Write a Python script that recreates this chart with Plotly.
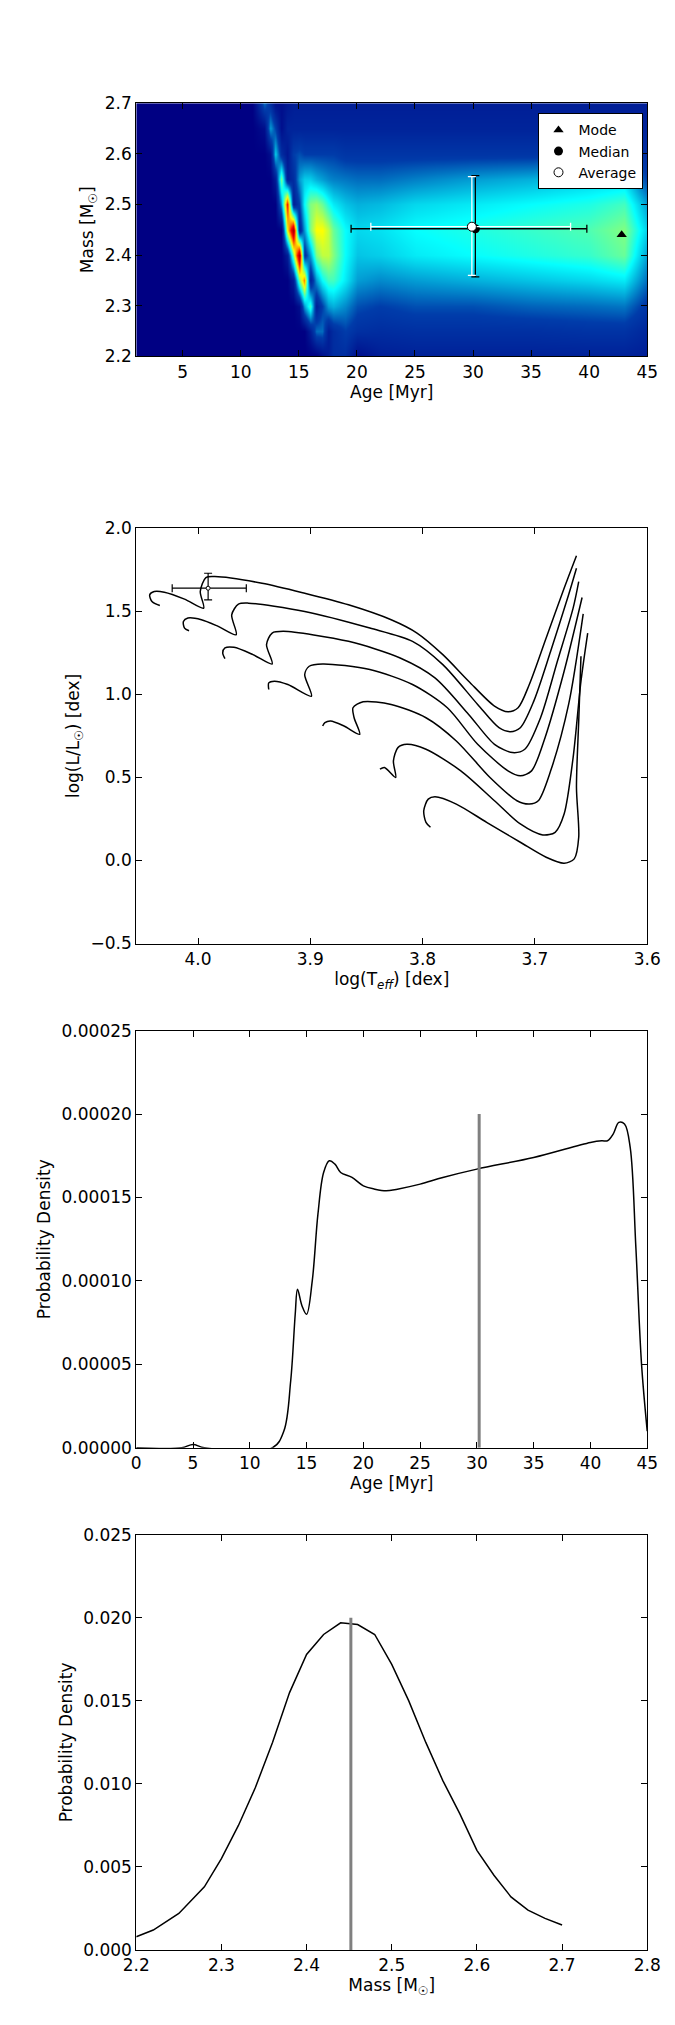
import plotly.graph_objects as go

# ---- panel 1: age / mass posterior (coarse grid, smoothed)
grid_age = [1, 11, 12, 12.5, 13, 13.5, 14, 14.5, 15, 15.5, 16, 16.5, 17, 17.5, 18, 19, 20, 22, 25,
            30, 35, 40, 43, 45]
grid_mass = [2.20, 2.25, 2.30, 2.35, 2.40, 2.45, 2.50, 2.55, 2.60, 2.65, 2.70]
grid_z = [
    [0] * 12 + [0.05, 0.1, 0.15, 0.15, 0.05, 0.1, 0.11, 0.11, 0.11, 0.11, 0.11, 0.1],
    [0] * 10 + [0.1, 0.25, 0.25, 0.1, 0.15, 0.2, 0.16, 0.15, 0.16, 0.16, 0.16, 0.17, 0.17, 0.13],
    [0] * 8 + [0.05, 0.3, 0.45, 0.1, 0.2, 0.3, 0.32, 0.28, 0.22, 0.2, 0.22, 0.22, 0.24, 0.25, 0.26, 0.18],
    [0] * 7 + [0.1, 0.5, 0.7, 0.1, 0.3, 0.4, 0.45, 0.45, 0.38, 0.3, 0.28, 0.3, 0.32, 0.34, 0.36, 0.38, 0.25],
    [0] * 6 + [0.1, 0.5, 0.95, 0.15, 0.3, 0.5, 0.55, 0.55, 0.5, 0.4, 0.34, 0.35, 0.38, 0.4, 0.42, 0.44,
               0.48, 0.3],
    [0] * 6 + [0.6, 0.95, 0.1, 0.3, 0.5, 0.6, 0.6, 0.55, 0.48, 0.4, 0.36, 0.37, 0.4, 0.42, 0.44, 0.46,
               0.5, 0.35],
    [0, 0, 0, 0, 0, 0.3, 0.8, 0.1, 0.2, 0.4, 0.5, 0.52, 0.48, 0.42, 0.38, 0.34, 0.32, 0.33, 0.36, 0.38,
     0.4, 0.42, 0.45, 0.3],
    [0, 0, 0, 0, 0.1, 0.5, 0.1, 0.15, 0.3, 0.35, 0.35, 0.32, 0.3, 0.28, 0.27, 0.26, 0.25, 0.25, 0.27,
     0.3, 0.32, 0.35, 0.36, 0.2],
    [0, 0, 0, 0.05, 0.35, 0.15, 0.08, 0.2, 0.22] + [0.2] * 6 + [0.18] * 6 + [0.2, 0.22, 0.15],
    [0, 0, 0.05, 0.3, 0.2, 0.05] + [0.12] * 18,
    [0, 0, 0.25, 0.15, 0.05, 0.05, 0.08] + [0.1] * 17,
]
mode_pt = (42.8, 2.44)
median_pt = (30.2, 2.452)
median_xerr = (10.7, 9.6)   # minus, plus
median_yerr = (0.095, 0.105)
avg_pt = (29.9, 2.456)
avg_xerr = (8.7, 8.5)
avg_yerr = (0.096, 0.099)

# ---- panel 2: evolutionary tracks
tracks = [
    ([4.034, 4.041, 4.043, 4.039, 4.030, 4.012, 3.995, 3.998, 3.993, 3.985, 3.943, 3.905, 3.866, 3.828,
      3.805, 3.782, 3.759, 3.736, 3.724, 3.715, 3.705, 3.690, 3.674, 3.663],
     [1.536, 1.56, 1.60, 1.62, 1.616, 1.574, 1.52, 1.62, 1.704, 1.71, 1.67, 1.61, 1.54, 1.45,
      1.37, 1.24, 1.08, 0.93, 0.896, 0.92, 1.06, 1.34, 1.64, 1.836]),
    ([4.008, 4.012, 4.013, 4.009, 3.997, 3.982, 3.966, 3.970, 3.964, 3.955, 3.905, 3.847, 3.809, 3.782,
      3.751, 3.732, 3.722, 3.713, 3.701, 3.686, 3.670, 3.663],
     [1.384, 1.40, 1.44, 1.46, 1.45, 1.41, 1.36, 1.48, 1.544, 1.55, 1.50, 1.40, 1.32, 1.18,
      0.94, 0.80, 0.776, 0.80, 0.96, 1.26, 1.60, 1.76]),
    ([3.976, 3.978, 3.976, 3.968, 3.951, 3.934, 3.939, 3.934, 3.924, 3.866, 3.820, 3.789, 3.759, 3.736,
      3.720, 3.709, 3.695, 3.680, 3.666, 3.661],
     [1.216, 1.25, 1.28, 1.284, 1.24, 1.184, 1.30, 1.37, 1.38, 1.32, 1.22, 1.10, 0.88, 0.70,
      0.65, 0.67, 0.86, 1.20, 1.52, 1.68]),
    ([3.937, 3.937, 3.932, 3.920, 3.899, 3.905, 3.901, 3.889, 3.847, 3.809, 3.778, 3.751, 3.724, 3.713,
      3.703, 3.691, 3.674, 3.658],
     [1.03, 1.07, 1.08, 1.06, 0.99, 1.12, 1.17, 1.184, 1.15, 1.06, 0.92, 0.70, 0.54, 0.51,
      0.54, 0.74, 1.14, 1.584]),
    ([3.889, 3.887, 3.882, 3.870, 3.856, 3.861, 3.862, 3.853, 3.828, 3.797, 3.770, 3.740, 3.716, 3.705,
      3.697, 3.686, 3.670, 3.657],
     [0.81, 0.83, 0.84, 0.81, 0.76, 0.86, 0.92, 0.956, 0.94, 0.86, 0.72, 0.50, 0.36, 0.34,
      0.36, 0.54, 0.94, 1.486]),
    ([3.838, 3.834, 3.824, 3.826, 3.822, 3.814, 3.797, 3.766, 3.736, 3.713, 3.693, 3.682, 3.674, 3.666,
      3.659, 3.653],
     [0.55, 0.56, 0.50, 0.60, 0.68, 0.70, 0.67, 0.54, 0.36, 0.22, 0.154, 0.17, 0.28, 0.62,
      1.08, 1.37]),
    ([3.793, 3.797, 3.799, 3.795, 3.789, 3.770, 3.743, 3.713, 3.690, 3.674, 3.665, 3.661, 3.663, 3.661,
      3.659],
     [0.20, 0.23, 0.30, 0.37, 0.384, 0.34, 0.23, 0.11, 0.02, -0.016, 0.01, 0.14, 0.44, 0.84, 1.23]),
]
star_teff, star_lum = 3.991, 1.64
star_teff_err = (0.034, 0.032)
star_lum_err = (0.07, 0.09)

# ---- panel 3: age pdf
age_x = [0, 4, 5, 6, 12, 13, 13.6, 14, 14.2, 14.6, 15, 15.5, 16, 16.5, 17, 17.5, 18, 19, 20, 21, 22, 23,
         25, 27, 30, 35, 40, 41, 41.5, 42, 42.5, 43, 43.5, 44, 44.5, 45]
age_pdf = [0, 0, 0.000002, 0, 0, 0.00001, 0.00004, 0.00008, 0.000095, 0.000085, 0.00008, 0.0001,
           0.00014, 0.000165, 0.000172, 0.00017, 0.000165, 0.000162, 0.000157, 0.000155, 0.000154,
           0.000155, 0.000158, 0.000162, 0.000167, 0.000174, 0.000183, 0.000184, 0.000184, 0.000188,
           0.000195, 0.000194, 0.00018, 0.00012, 0.00005, 0.00001]
age_med = 30.2
age_line_top = 0.0002

# ---- panel 4: mass pdf
mass_x = [2.2, 2.22, 2.25, 2.28, 2.3, 2.32, 2.34, 2.36, 2.38, 2.4, 2.42, 2.44, 2.46, 2.48, 2.5, 2.52,
          2.54, 2.56, 2.58, 2.6, 2.62, 2.64, 2.66, 2.68, 2.7]
mass_pdf = [0.0008, 0.0012, 0.0022, 0.0038, 0.0055, 0.0075, 0.0098, 0.0125, 0.0155, 0.0178, 0.019,
            0.0197, 0.0196, 0.019, 0.0172, 0.015, 0.0125, 0.0102, 0.0082, 0.006, 0.0045, 0.0032,
            0.0024, 0.0019, 0.0015]
mass_med = 2.452
mass_line_top = 0.02

fig = go.Figure()

fig.add_trace(go.Heatmap(x=grid_age, y=grid_mass, z=grid_z, colorscale="Jet", zmin=0, zmax=1,
                         zsmooth="best", showscale=False, xaxis="x", yaxis="y", hoverinfo="skip"))
fig.add_trace(go.Scatter(x=[mode_pt[0]], y=[mode_pt[1]], mode="markers", name="Mode",
                         marker=dict(symbol="triangle-up", size=9, color="black")))
fig.add_trace(go.Scatter(x=[median_pt[0]], y=[median_pt[1]], mode="markers", name="Median",
                         marker=dict(size=9, color="black"),
                         error_x=dict(type="data", symmetric=False, array=[median_xerr[1]],
                                      arrayminus=[median_xerr[0]], color="black", thickness=1.3, width=4),
                         error_y=dict(type="data", symmetric=False, array=[median_yerr[1]],
                                      arrayminus=[median_yerr[0]], color="black", thickness=1.3, width=4)))
fig.add_trace(go.Scatter(x=[avg_pt[0]], y=[avg_pt[1]], mode="markers", name="Average",
                         marker=dict(size=9, color="white", line=dict(color="black", width=1)),
                         error_x=dict(type="data", symmetric=False, array=[avg_xerr[1]],
                                      arrayminus=[avg_xerr[0]], color="white", thickness=1.3, width=4),
                         error_y=dict(type="data", symmetric=False, array=[avg_yerr[1]],
                                      arrayminus=[avg_yerr[0]], color="white", thickness=1.3, width=4)))

for tx, ty in tracks:
    fig.add_trace(go.Scatter(x=tx, y=ty, mode="lines", line=dict(color="black", width=1.5, shape="spline",
                             smoothing=0.8), showlegend=False, xaxis="x2", yaxis="y2"))
fig.add_trace(go.Scatter(x=[star_teff], y=[star_lum], mode="markers", showlegend=False,
                         marker=dict(size=4, color="white", line=dict(color="black", width=1)),
                         error_x=dict(type="data", symmetric=False, array=[star_teff_err[1]],
                                      arrayminus=[star_teff_err[0]], color="black", thickness=1.2, width=4),
                         error_y=dict(type="data", symmetric=False, array=[star_lum_err[1]],
                                      arrayminus=[star_lum_err[0]], color="black", thickness=1.2, width=4),
                         xaxis="x2", yaxis="y2"))

fig.add_trace(go.Scatter(x=age_x, y=age_pdf, mode="lines", line=dict(color="black", width=1.5, shape="spline"),
                         showlegend=False, xaxis="x3", yaxis="y3"))
fig.add_trace(go.Scatter(x=[age_med, age_med], y=[0, age_line_top], mode="lines",
                         line=dict(color="grey", width=3), showlegend=False, xaxis="x3", yaxis="y3"))

fig.add_trace(go.Scatter(x=mass_x, y=mass_pdf, mode="lines", line=dict(color="black", width=1.5),
                         showlegend=False, xaxis="x4", yaxis="y4"))
fig.add_trace(go.Scatter(x=[mass_med, mass_med], y=[0, mass_line_top], mode="lines",
                         line=dict(color="grey", width=3), showlegend=False, xaxis="x4", yaxis="y4"))

ax = dict(showline=True, linecolor="black", linewidth=1, mirror="allticks", ticks="inside",
          ticklen=6, tickcolor="black", showgrid=False, zeroline=False, automargin=False,
          tickfont=dict(size=17, color="black"), domain=[0.19, 0.947])
tf = dict(size=17, color="black")

fig.update_layout(
    width=675, height=2025, plot_bgcolor="white", paper_bgcolor="white",
    margin=dict(l=0, r=0, t=0, b=0, autoexpand=False),
    font=dict(family="DejaVu Sans", color="black"),
    xaxis=dict(ax, anchor="y", range=[1, 45], tickvals=[5, 10, 15, 20, 25, 30, 35, 40, 45],
               title=dict(text="Age [Myr]", font=tf, standoff=4)),
    yaxis=dict(ax, domain=[0.828, 0.953], anchor="x", range=[2.2, 2.7], dtick=0.1, tickformat=".1f",
               title=dict(text="Mass [M<sub>☉</sub>]", font=tf, standoff=6)),
    xaxis2=dict(ax, anchor="y2", range=[4.055, 3.6], dtick=0.1, tickformat=".1f",
                title=dict(text="log(T<sub><i>eff</i></sub>) [dex]", font=tf, standoff=4)),
    yaxis2=dict(ax, domain=[0.538, 0.743], anchor="x2", range=[-0.5, 2.0], dtick=0.5, tickformat=".1f",
                title=dict(text="log(L/L<sub>☉</sub>) [dex]", font=tf, standoff=6)),
    xaxis3=dict(ax, anchor="y3", range=[0, 45], dtick=5,
                title=dict(text="Age [Myr]", font=tf, standoff=4)),
    yaxis3=dict(ax, domain=[0.289, 0.495], anchor="x3", range=[0, 0.00025], dtick=0.00005, tickformat=".5f",
                title=dict(text="Probability Density", font=tf, standoff=6)),
    xaxis4=dict(ax, anchor="y4", range=[2.2, 2.8], dtick=0.1, tickformat=".1f",
                title=dict(text="Mass [M<sub>☉</sub>]", font=tf, standoff=4)),
    yaxis4=dict(ax, domain=[0.041, 0.246], anchor="x4", range=[0, 0.025], dtick=0.005, tickformat=".3f",
                title=dict(text="Probability Density", font=tf, standoff=6)),
    legend=dict(x=0.94, y=0.948, xanchor="right", yanchor="top", bgcolor="white",
                bordercolor="black", borderwidth=1, font=dict(size=14, color="black"),
                tracegroupgap=0, itemwidth=30),
)

fig.write_html("out.html")
